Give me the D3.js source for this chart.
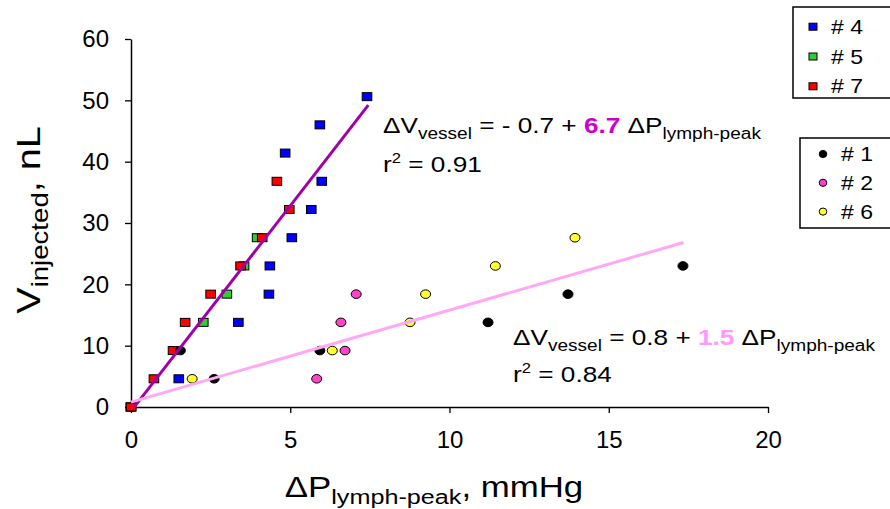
<!DOCTYPE html>
<html><head><meta charset="utf-8">
<script src="https://cdn.jsdelivr.net/npm/d3@7"></script>
<style>body{margin:0;background:#fff;}svg{display:block;}text{font-family:"Liberation Sans",Arial,sans-serif;}</style>
</head><body>
<svg id="c" width="890" height="509"></svg>
<script>
// ---- data ----
const xTicks = [0, 5, 10, 15, 20];
const yTicks = [0, 10, 20, 30, 40, 50, 60];
const seriesNames = ["# 4", "# 5", "# 7", "# 1", "# 2", "# 6"];
// square series
const s4x = [0, 1.50, 3.37, 4.33, 4.36, 5.05, 5.66, 5.99, 4.84, 5.93, 7.41];
const s4y = [0, 4.6, 13.8, 18.4, 23.0, 27.6, 32.2, 36.8, 41.4, 46.0, 50.6];
const s5x = [0, 2.27, 3.01, 3.55, 3.96];
const s5y = [0, 13.8, 18.4, 23.0, 27.6];
const s7x = [0, 0.72, 1.32, 1.70, 2.50, 3.44, 4.12, 4.97, 4.58];
const s7y = [0, 4.6, 9.2, 13.8, 18.4, 23.0, 27.6, 32.2, 36.8];
// circle series
const s1x = [1.55, 2.61, 5.93, 11.21, 13.72, 17.33];
const s1y = [9.2, 4.6, 9.2, 13.8, 18.4, 23.0];
const s2x = [5.83, 6.72, 6.59, 7.07];
const s2y = [4.6, 9.2, 13.8, 18.4];
const s6x = [1.92, 6.32, 8.76, 9.25, 11.44, 13.94];
const s6y = [4.6, 9.2, 13.8, 18.4, 23.0, 27.6];
// regression fits: intercept, slope, x-range
const fitA = {b0: -0.7, b1: 6.7, x0: 0.1, x1: 7.45, r2: "0.91"};
const fitB = {b0: 0.8, b1: 1.5, x0: 0, x1: 17.35, r2: "0.84"};

// ---- styles ----
const colors = {"# 4": "#0000ff", "# 5": "#33cc33", "# 7": "#ff0000", "# 1": "#000000", "# 2": "#ff44cc", "# 6": "#ffff33"};
const lineA = "#a000a8", lineB = "#ffa8f4";

const svg = d3.select("#c");
const x = d3.scaleLinear().domain([0, 20]).range([131, 768]);
const y = d3.scaleLinear().domain([0, 60]).range([407, 39]);

// axes
const gx = svg.append("g").attr("transform", "translate(0,407)")
  .call(d3.axisBottom(x).tickValues(xTicks).tickSize(6).tickSizeOuter(0).tickPadding(8));
const gy = svg.append("g").attr("transform", "translate(131,0)")
  .call(d3.axisLeft(y).tickValues(yTicks).tickSize(6).tickSizeOuter(0).tickPadding(16));
[gx, gy].forEach(g => {
  g.select(".domain").attr("stroke", "#000").attr("stroke-width", 1.5);
  g.selectAll(".tick line").attr("stroke", "#000").attr("stroke-width", 1.3);
  g.selectAll(".tick text").attr("font-size", 24).attr("fill", "#000")
    .attr("font-family", "Liberation Sans, Arial, sans-serif");
});
gx.selectAll(".tick text").attr("dy", "1.12em");

// points
const squares = [[s4x, s4y, "# 4"], [s5x, s5y, "# 5"], [s7x, s7y, "# 7"]];
const circles = [[s1x, s1y, "# 1"], [s2x, s2y, "# 2"], [s6x, s6y, "# 6"]];
const pts = svg.append("g");
squares.forEach(([xs, ys, n]) => {
  pts.append("g").selectAll("rect").data(xs.map((v, i) => [v, ys[i]])).join("rect")
    .attr("x", d => x(d[0]) - 4.8).attr("y", d => y(d[1]) - 4).attr("width", 9.6).attr("height", 8)
    .attr("fill", colors[n]).attr("stroke", "#000").attr("stroke-width", 1);
});
circles.forEach(([xs, ys, n]) => {
  pts.append("g").selectAll("ellipse").data(xs.map((v, i) => [v, ys[i]])).join("ellipse")
    .attr("cx", d => x(d[0])).attr("cy", d => y(d[1])).attr("rx", 5).attr("ry", 4.3)
    .attr("fill", colors[n]).attr("stroke", "#000").attr("stroke-width", 1);
});

// regression lines
[[fitA, lineA], [fitB, lineB]].forEach(([f, c]) => {
  svg.append("line")
    .attr("x1", x(f.x0)).attr("y1", y(f.b0 + f.b1 * f.x0))
    .attr("x2", x(f.x1)).attr("y2", y(f.b0 + f.b1 * f.x1))
    .attr("stroke", c).attr("stroke-width", 3);
});

// rich text helper: parts = [text, size, shift, color, bold]
function rich(tx, ty, parts, sx, rot) {
  const g = svg.append("g").attr("transform", `translate(${tx},${ty})` + (rot ? ` rotate(${rot})` : "") + ` scale(${sx},1)`);
  const t = g.append("text").attr("x", 0).attr("y", 0).attr("fill", "#000");
  let cur = 0;
  parts.forEach(([s, size, shift, color, bold]) => {
    const ts = t.append("tspan").text(s).attr("font-size", size).attr("dy", shift - cur);
    cur = shift;
    if (color) ts.attr("fill", color);
    if (bold) ts.attr("font-weight", "bold");
  });
  return g;
}

// equations
rich(383, 133, [["\u0394V", 22, 0], ["vessel", 16, 6], [" = - 0.7 + ", 22, 0], ["6.7", 22, 0, "#cc00cc", true], [" \u0394P", 22, 0], ["lymph-peak", 16, 6]], 1.19);
rich(383, 172, [["r", 22, 0], ["2", 14, -9], [" = " + fitA.r2, 22, 0]], 1.19);
rich(513, 345, [["\u0394V", 22, 0], ["vessel", 16, 6], [" = 0.8 + ", 22, 0], ["1.5", 22, 0, "#ff99ff", true], [" \u0394P", 22, 0], ["lymph-peak", 16, 6]], 1.19);
rich(513, 382, [["r", 22, 0], ["2", 14, -9], [" = " + fitB.r2, 22, 0]], 1.19);

// axis titles
const xt = rich(0, 497, [["\u0394P", 29, 0], ["lymph-peak", 21, 7], [", mmHg", 29, 0]], 1.2);
const xw = xt.node().getBBox().width * 1.2;
xt.attr("transform", `translate(${434 - xw / 2},497) scale(1.2,1)`);
const yt = rich(0, 0, [["V", 33, 0], ["injected", 23, 8], [", nL", 33, 0]], 1.2);
const yw = yt.node().getBBox().width * 1.2;
yt.attr("transform", `translate(40,${220 + yw / 2}) rotate(-90) scale(1.2,1)`);

// legends
function legend(lx, ly, w, h, names, shape, mx, my0, dy) {
  svg.append("rect").attr("x", lx).attr("y", ly).attr("width", w).attr("height", h)
    .attr("fill", "#fff").attr("stroke", "#000").attr("stroke-width", 1.5);
  names.forEach((n, i) => {
    const cy = my0 + i * dy;
    if (shape === "sq") {
      svg.append("rect").attr("x", mx - 4).attr("y", cy - 3.5).attr("width", 8).attr("height", 7)
        .attr("fill", colors[n]).attr("stroke", "#000").attr("stroke-width", 1);
    } else {
      svg.append("ellipse").attr("cx", mx).attr("cy", cy).attr("rx", 3.8).attr("ry", 3.6)
        .attr("fill", colors[n]).attr("stroke", "#000").attr("stroke-width", 1);
    }
    svg.append("g").attr("transform", `translate(${mx + 18},${cy + 7}) scale(1.15,1)`)
      .append("text").text(n).attr("font-size", 20).attr("fill", "#000");
  });
}
legend(793, 7, 110, 91, ["# 4", "# 5", "# 7"], "sq", 813, 26.7, 29.8);
legend(800, 138, 110, 90, ["# 1", "# 2", "# 6"], "ci", 823, 154, 28.8);
</script>
</body></html>
